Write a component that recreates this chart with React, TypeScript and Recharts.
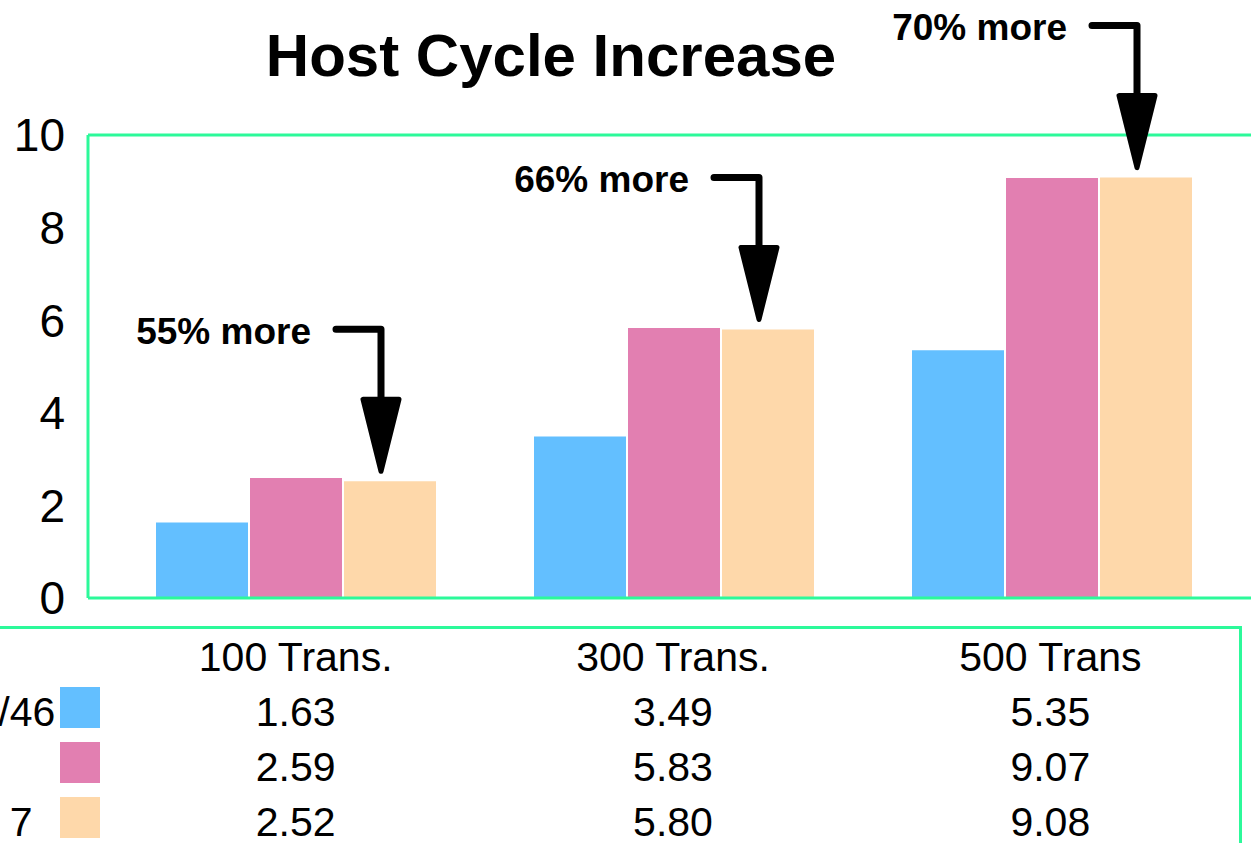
import React from 'react'
import { BarChart, Bar, XAxis, YAxis, ReferenceLine, LabelList } from 'recharts'

// values
const categories = ['100 Trans.', '300 Trans.', '500 Trans']
const seriesNames = ['Host/46', 'Host', 'Host 7']
const baseValues = [1.63, 3.49, 5.35]
const midValues = [2.59, 5.83, 9.07]
const newValues = [2.52, 5.8, 9.08]
const increaseNotes = ['55% more', '66% more', '70% more']
const yTicks = [0, 2, 4, 6, 8, 10]

const colors = ['#63bfff', '#e27fb1', '#fed8aa']
const green = '#2cf99a'
const font = '"Liberation Sans", Arial, sans-serif'

const data = categories.map((name, i) => ({
  name,
  base: baseValues[i],
  mid: midValues[i],
  next: newValues[i],
  note: increaseNotes[i],
}))

const series = [baseValues, midValues, newValues]

// bent arrow + "xx% more" pointing down at the top of the last bar in each group
const Annotation = (props: any) => {
  const { x, y, value } = props
  const ax = Number(x) + 37
  const tip = Number(y) - 10
  const triTop = tip - 72
  const lineY = triTop - 70
  return (
    <g>
      <text
        x={ax - 70}
        y={lineY + 2}
        textAnchor="end"
        dominantBaseline="central"
        fontSize={37}
        fontWeight="bold"
        fill="#000"
      >
        {value}
      </text>
      <path
        d={`M${ax - 45},${lineY} L${ax},${lineY} L${ax},${triTop}`}
        fill="none"
        stroke="#000"
        strokeWidth={7}
        strokeLinecap="round"
        strokeLinejoin="round"
      />
      <path
        d={`M${ax - 18},${triTop} L${ax + 18},${triTop} L${ax},${tip} Z`}
        fill="#000"
        stroke="#000"
        strokeWidth={5}
        strokeLinejoin="round"
      />
    </g>
  )
}

const rowStyle = (h: number) => ({
  display: 'grid',
  gridTemplateColumns: '107px repeat(3, 1fr)',
  lineHeight: `${h}px`,
  height: h,
})

const App = () => {
  return (
    <div
      style={{
        position: 'fixed',
        left: 0,
        top: 0,
        width: 1251,
        height: 843,
        overflow: 'hidden',
        background: '#fff',
        fontFamily: font,
      }}
    >
      <div
        style={{
          position: 'absolute',
          left: 0,
          top: 26,
          width: 1102,
          textAlign: 'center',
          fontSize: 60,
          lineHeight: '60px',
          fontWeight: 'bold',
          color: '#000',
        }}
      >
        Host Cycle Increase
      </div>

      <div style={{ position: 'absolute', left: 0, top: 0 }}>
        <BarChart
          width={1300}
          height={843}
          data={data}
          margin={{ top: 135, right: 39, left: 0, bottom: 215 }}
          barCategoryGap={48.5}
          barGap={2}
          style={{ fontFamily: font, overflow: 'visible' }}
        >
          <XAxis
            dataKey="name"
            tick={false}
            tickLine={false}
            axisLine={{ stroke: green, strokeWidth: 3 }}
            padding={{ left: 19.5, right: 19.5 }}
          />
          <YAxis
            width={88}
            domain={[0, 10]}
            ticks={yTicks}
            tickLine={false}
            tickSize={0}
            tickMargin={23}
            axisLine={{ stroke: green, strokeWidth: 3 }}
            tick={{ fontSize: 46, fill: '#000' }}
          />
          <ReferenceLine y={10} stroke={green} strokeWidth={3} />
          <Bar dataKey="base" fill={colors[0]} isAnimationActive={false} />
          <Bar dataKey="mid" fill={colors[1]} isAnimationActive={false} />
          <Bar dataKey="next" fill={colors[2]} isAnimationActive={false}>
            <LabelList dataKey="note" content={Annotation} />
          </Bar>
        </BarChart>
      </div>

      {/* data table below the plot */}
      <div
        style={{
          position: 'absolute',
          left: 0,
          top: 626,
          width: 1242,
          height: 230,
          boxSizing: 'border-box',
          borderTop: `3px solid ${green}`,
          borderRight: `3px solid ${green}`,
          fontSize: 41,
          color: '#000',
        }}
      >
        <div style={rowStyle(56)}>
          <div />
          {categories.map(c => (
            <div key={c} style={{ textAlign: 'center', whiteSpace: 'nowrap' }}>{c}</div>
          ))}
        </div>
        {series.map((vals, r) => (
          <div key={seriesNames[r]} style={rowStyle(55)}>
            <div style={{ position: 'relative' }}>
              <span style={{ position: 'absolute', left: -86, top: 0, whiteSpace: 'nowrap' }}>{seriesNames[r]}</span>
              <span
                style={{
                  position: 'absolute',
                  left: 60,
                  top: 2,
                  width: 40,
                  height: 41,
                  background: colors[r],
                }}
              />
            </div>
            {vals.map((v, i) => (
              <div key={i} style={{ textAlign: 'center' }}>{v.toFixed(2)}</div>
            ))}
          </div>
        ))}
      </div>
    </div>
  )
}

export default App
